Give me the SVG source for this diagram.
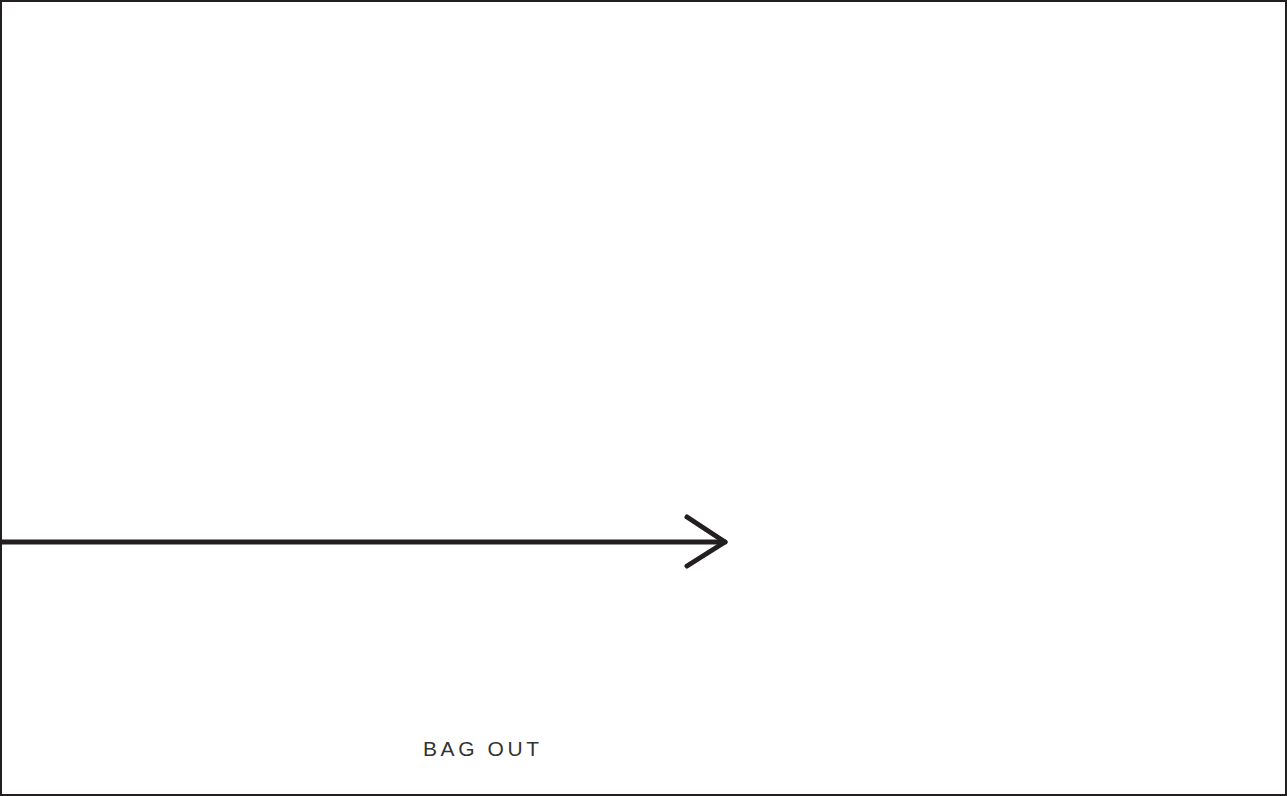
<svg xmlns="http://www.w3.org/2000/svg" width="1287" height="796" viewBox="0 0 1287 796">
<style>
.frame{fill:#fff;stroke:#231f20;stroke-width:2}
.conn{fill:none;stroke:#231f20;stroke-width:5;stroke-linecap:round;stroke-linejoin:round}
.label{font-family:"Liberation Sans",Arial,sans-serif;font-size:21px;fill:#333;letter-spacing:3.6px}
</style>
<rect class="frame" x="1" y="1" width="1285" height="794"/>
<g id="connectors">
<path class="conn" d="M2 542 H725"/>
<path class="conn" d="M687 517 L725 542 L687 566"/>
</g>
<g id="label-bag-out">
<text class="label" x="423" y="756">BAG OUT</text>
</g>
</svg>
